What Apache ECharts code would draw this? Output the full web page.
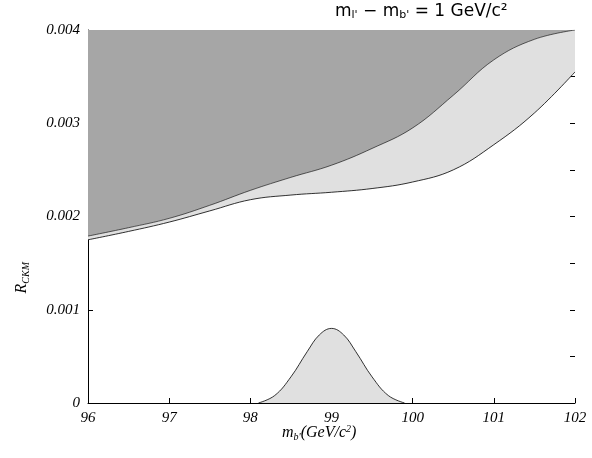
<!DOCTYPE html><html><head><meta charset="utf-8"><script src="https://cdn.jsdelivr.net/npm/echarts@6/dist/echarts.min.js"></script></head><body style="margin:0"><div id="c" style="width:592px;height:458px"></div><script>
const mass=[96,96.5,97,97.5,98,98.5,99,99.5,100,100.5,101,101.5,102];
const expected=[0.00179,0.00188,0.00198,0.00212,0.00228,0.00242,0.00255,0.00273,0.00295,0.0033,0.00368,0.0039,0.004];
const observed=[0.00175,0.00184,0.00194,0.00206,0.00218,0.00223,0.00226,0.0023,0.00237,0.0025,0.00277,0.00311,0.00355];
const bumpX=[98.1,98.3,98.5,98.7,98.85,99,99.15,99.3,99.5,99.7,99.9];
const bumpY=[0,0.00008,0.00028,0.00055,0.00073,0.0008,0.00073,0.00055,0.00028,0.00008,0];
const z=(a,b)=>a.map((v,i)=>[v,b[i]]);
const ch=echarts.init(document.getElementById('c'));
const f='Liberation Serif';
const lab='18px "Liberation Serif"';
ch.setOption({animation:false,
graphic:[
{type:'text',left:335,top:3,style:{rich:{a:{fontSize:17,fontFamily:'DejaVu Sans'},s:{fontSize:11,fontFamily:'DejaVu Sans',padding:[8,0,0,0]}},text:"{a|m}{s|l'}{a| \u2212 m}{s|b'}{a| = 1 GeV/c\u00b2}"}},
{type:'text',left:274,top:126,style:{text:'expected',font:lab}},
{type:'text',left:366,top:152,style:{text:'observed',font:lab}},
{type:'text',left:287,top:378,style:{text:'observed',font:lab}},
{type:'text',left:282,top:424,style:{rich:{a:{fontFamily:f,fontStyle:'italic',fontSize:16},s:{fontFamily:f,fontStyle:'italic',fontSize:10,padding:[8,0,0,0]},p:{fontFamily:f,fontStyle:'italic',fontSize:10,padding:[0,0,8,0]}},text:"{a|m}{s|b'}{a|(GeV/c}{p|2}{a|)}"}},
{type:'text',left:14,top:262,rotation:Math.PI/2,style:{rich:{a:{fontFamily:f,fontStyle:'italic',fontSize:16},s:{fontFamily:f,fontStyle:'italic',fontSize:10,padding:[8,0,0,0]}},text:"{a|R}{s|CKM}"}}
],
grid:{left:88,right:17,top:30,bottom:55},
xAxis:{type:'value',min:96,max:102,interval:1,
axisLine:{onZero:false,lineStyle:{color:'#000'}},axisTick:{inside:true,length:5,lineStyle:{color:'#000'}},
axisLabel:{fontFamily:f,fontStyle:'italic',fontSize:15,color:'#000'},splitLine:{show:false}},
yAxis:[{type:'value',min:0,max:0.004,interval:0.001,
axisLine:{lineStyle:{color:'#000'}},axisTick:{inside:true,length:5,lineStyle:{color:'#000'}},
axisLabel:{fontFamily:f,fontStyle:'italic',fontSize:15,color:'#000',formatter:v=>v===0?'0':v.toFixed(3)},splitLine:{show:false}},
{type:'value',min:0,max:0.004,interval:0.0005,position:'right',axisLine:{show:false},
axisTick:{inside:true,length:5,lineStyle:{color:'#000'}},axisLabel:{show:false},splitLine:{show:false}}],
series:[
{type:'line',data:z(mass,observed),smooth:0.4,symbol:'none',lineStyle:{color:'#000',width:0.8},areaStyle:{origin:'end',color:'#e0e0e0',opacity:1}},
{type:'line',data:z(mass,expected),smooth:0.4,symbol:'none',lineStyle:{color:'#000',width:0.6},areaStyle:{origin:'end',color:'#a6a6a6',opacity:1}},
{type:'line',data:z(bumpX,bumpY),smooth:0.4,symbol:'none',lineStyle:{color:'#000',width:0.8},areaStyle:{origin:'start',color:'#e0e0e0',opacity:1}}
]});
</script></body></html>
